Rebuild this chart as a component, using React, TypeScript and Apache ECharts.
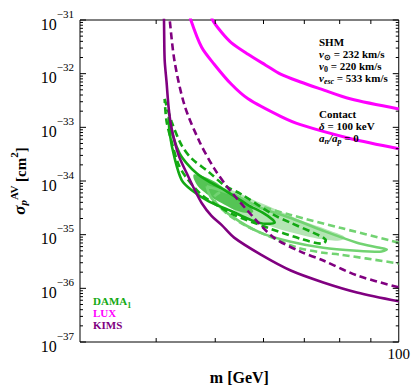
import React, { useEffect, useRef } from "react";
import * as echarts from "echarts";

const SERIF = "'Liberation Serif', 'Times New Roman', Times, serif";

// Axis ranges and ticks (sigma in cm^2)
const X_MIN = 30;
const X_MAX = 100;
const Y_MIN_EXP = -37;
const Y_MAX_EXP = -31;
const X_LABELED_TICKS = [100];
const X_MINOR_TICKS = [40, 50, 60, 70, 80, 90];
const Y_DECADE_EXPONENTS = [-37, -36, -35, -34, -33, -32, -31];
const Y_MINOR_MULTIPLIERS = [2, 3, 4, 5, 6, 7, 8, 9];

// LUX limits [m (GeV), sigma (cm^2)]
const luxUpper: [number, number][] = [
  [49.2, 1.4e-31], [49.5, 1e-31], [51.2, 5.9e-32], [53.1, 3.8e-32], [56.6, 2.3e-32],
  [60.5, 1.44e-32], [64.0, 9.8e-33], [69.0, 7.0e-33], [74.4, 5.2e-33], [83.2, 3.4e-33], [100, 2.2e-33],
];
const luxLower: [number, number][] = [
  [45.4, 1.4e-31], [45.6, 1e-31], [47.5, 3.1e-32], [49.8, 1.5e-32], [53.1, 6.4e-33],
  [56.6, 3.4e-33], [64.0, 1.6e-33], [69.0, 1.12e-33], [83.2, 6.2e-34], [100, 4.0e-34],
];

// KIMS limits
const kimsSolid: [number, number][] = [
  [41.1, 2e-31], [41.2, 1e-31], [41.3, 1.86e-32], [41.6, 7.0e-33], [41.95, 2.2e-33], [42.4, 9.5e-34],
  [43.55, 3.0e-34], [44.9, 1.39e-34], [46.1, 7.4e-35], [47.5, 3.9e-35], [49.3, 2.24e-35],
  [51.2, 1.52e-35], [53.7, 8.8e-36], [59.4, 4.25e-36], [66.5, 2.15e-36], [75.2, 1.29e-36],
  [85.4, 8.4e-37], [100, 5.75e-37],
];
const kimsDashed: [number, number][] = [
  [42.0, 1.5e-31], [42.1, 1e-31], [42.9, 1.64e-32], [44.55, 2.52e-33], [47.1, 5.44e-34],
  [49.8, 1.72e-34], [52.5, 7.4e-35], [57.9, 2.05e-35], [62.4, 8.8e-36], [69.0, 4.83e-36],
  [75.2, 3.3e-36], [85.4, 1.74e-36], [100, 1.04e-36],
];

// DAMA allowed regions
const damaDarkDashed: [number, number][] = [
  [41.3, 3.39e-33], [42.4, 1.27e-33], [44.05, 4.6e-34], [45.7, 2.64e-34], [48.7, 1.5e-34],
  [51.7, 8.4e-35], [55.1, 5.7e-35], [62.4, 2.33e-35], [66.5, 1.66e-35], [72.5, 1.08e-35],
  [75.2, 8.8e-36], [75.9, 7.7e-36], [75.0, 6.8e-36], [69.0, 8.4e-36], [61.0, 1.34e-35],
  [53.7, 2.33e-35], [51.2, 3.14e-35], [47.5, 5.5e-35], [44.9, 1.13e-34], [43.55, 2.0e-34],
  [42.4, 5.4e-34], [41.6, 1.3e-33], [41.3, 3.39e-33],
];
const damaDarkSolid: [number, number][] = [
  [41.95, 1.58e-33], [42.75, 6.2e-34], [43.7, 3.27e-34], [44.9, 2.13e-34], [46.6, 1.39e-34],
  [48.7, 9.9e-35], [52.1, 6.5e-35], [56.6, 3.57e-35], [59.9, 2.54e-35], [62.2, 1.88e-35],
  [62.6, 1.66e-35], [60.5, 1.59e-35], [57.2, 1.88e-35], [53.1, 2.76e-35], [48.7, 4.23e-35],
  [45.7, 6.8e-35], [44.05, 1.04e-34], [42.9, 2.64e-34], [42.1, 7.65e-34], [41.95, 1.58e-33],
];
const damaLightDashed: [number, number][] = [
  [100, 7.1e-36], [80.2, 1.34e-35], [66.5, 2.33e-35], [57.2, 3.9e-35],
  [51.7, 6.5e-35], [49.7, 4.8e-35], [52.1, 2.54e-35], [56.2, 1.46e-35], [61.0, 9.5e-36],
  [68.3, 5.7e-36], [75.2, 4.6e-36], [80.2, 4.25e-36], [100, 2.9e-36],
];
const damaLightSolid: [number, number][] = [
  [48.4, 8.0e-35], [53.7, 5.5e-35], [59.4, 3.14e-35], [66.5, 2.05e-35], [75.2, 1.18e-35],
  [85.4, 7.1e-36], [93.1, 5.7e-36], [95.6, 5.3e-36], [93.1, 4.8e-36], [85.4, 5.0e-36],
  [75.2, 5.7e-36], [66.5, 7.4e-36], [59.4, 1.08e-35], [53.1, 2.24e-35], [49.3, 4.8e-35], [48.4, 8.0e-35],
];
const damaDarkFill: [number, number][] = [
  [46.2, 1.34e-34], [49.3, 1.04e-34], [53.1, 5.95e-35], [56.2, 3.89e-35], [57.7, 2.65e-35],
  [55.1, 2.65e-35], [51.2, 3.89e-35], [47.5, 6.8e-35], [46.2, 1.04e-34],
];
const damaLightFill: [number, number][] = [
  [51.2, 7.4e-35], [59.4, 3.89e-35], [69.0, 1.88e-35], [77.2, 1.18e-35], [81.7, 8.8e-36],
  [78.7, 7.7e-36], [69.0, 9.96e-36], [59.4, 1.66e-35], [53.1, 3.14e-35],
];

const C_DAMA = "#13a913";
const C_DAMA_LIGHT = "#72d372";
const C_DAMA_FILL = "#55c455";
const C_DAMA_LIGHT_FILL = "#b4e5b4";
const C_LUX = "#ff00ff";
const C_KIMS = "#800080";

// The y axis works in units of 1e-37 cm^2 to keep the numbers well-conditioned.
const UNIT_EXP = Y_MIN_EXP;
const toAxis = (p: [number, number]): [number, number] => [p[0], p[1] * Math.pow(10, -UNIT_EXP)];
const decade = (e: number) => Math.pow(10, e - UNIT_EXP);

function lineSeries(data: [number, number][], color: string, dashed: boolean, width = 2.6) {
  return {
    type: "line",
    data: data.map(toAxis),
    showSymbol: false,
    symbol: "none",
    smooth: 0.3,
    clip: true,
    silent: true,
    lineStyle: { color, width, type: dashed ? [7, 4] : "solid", cap: "butt" },
  };
}

function fillSeries(points: [number, number][], color: string) {
  const pts = points.map(toAxis);
  return {
    type: "custom",
    coordinateSystem: "cartesian2d",
    silent: true,
    data: [pts[0]],
    renderItem: (_params: any, api: any) => ({
      type: "polygon",
      shape: { points: pts.map((p) => api.coord(p)), smooth: 0.4 },
      style: { fill: color },
    }),
  };
}

const tickSeries = {
  type: "custom",
  coordinateSystem: "cartesian2d",
  silent: true,
  z: 10,
  data: [[50, decade(-34)]],
  renderItem: (params: any, api: any) => {
    const cs = params.coordSys;
    const L = cs.x, R = cs.x + cs.width, T = cs.y, B = cs.y + cs.height;
    const ch: any[] = [];
    const seg = (x1: number, y1: number, x2: number, y2: number) => ({
      type: "line",
      shape: { x1, y1, x2, y2 },
      style: { stroke: "#000", lineWidth: 1 },
    });
    Y_DECADE_EXPONENTS.forEach((e) => {
      const y = api.coord([X_MIN, decade(e)])[1];
      ch.push(seg(L, y, L + 6, y), seg(R, y, R - 6, y));
      if (e < Y_MAX_EXP) {
        Y_MINOR_MULTIPLIERS.forEach((k) => {
          const yy = api.coord([X_MIN, k * decade(e)])[1];
          ch.push(seg(L, yy, L + 3, yy), seg(R, yy, R - 3, yy));
        });
      }
    });
    X_MINOR_TICKS.forEach((v) => {
      const x = api.coord([v, decade(Y_MIN_EXP)])[0];
      ch.push(seg(x, B, x, B - 4), seg(x, T, x, T + 4));
    });
    return { type: "group", children: ch };
  },
};

const annRich = {
  b: { fontFamily: SERIF, fontWeight: "bold", fontSize: 11, fill: "#000", color: "#000", lineHeight: 14, verticalAlign: "middle" },
  i: { fontFamily: SERIF, fontWeight: "bold", fontStyle: "italic", fontSize: 11, fill: "#000", color: "#000", lineHeight: 14, verticalAlign: "middle" },
  sub: { fontFamily: SERIF, fontWeight: "bold", fontStyle: "italic", fontSize: 8, fill: "#000", color: "#000", lineHeight: 8, verticalAlign: "bottom" },
  subn: { fontFamily: SERIF, fontWeight: "bold", fontSize: 8, fill: "#000", color: "#000", lineHeight: 8, verticalAlign: "bottom" },
};

const ANNOTATION_LINES = [
  "{b|SHM}",
  "{i|v}{subn|⊙}{b| = 232 km/s}",
  "{i|v}{subn|0}{b| = 220 km/s}",
  "{i|v}{sub|esc}{b| = 533 km/s}",
  "",
  "",
  "{b|Contact}",
  "{i|δ}{b| = 100 keV}",
  "{i|a}{sub|n}{i|/a}{sub|p}{b| = 0}",
];

const LEGEND_ITEMS = [
  { text: "{t|DAMA}{s|1}", color: C_DAMA },
  { text: "{t|LUX}", color: C_LUX },
  { text: "{t|KIMS}", color: C_KIMS },
];

export default function App() {
  const ref = useRef<HTMLDivElement>(null);
  useEffect(() => {
    document.body.style.margin = "0";
    if (!ref.current) return;
    const chart = echarts.init(ref.current, undefined, { renderer: "svg" });

    const graphic: any[] = [];
    ANNOTATION_LINES.forEach((t, i) => {
      if (!t) return;
      graphic.push({
        type: "text",
        x: 319,
        y: 42 + i * 12,
        silent: true,
        z: 20,
        style: { text: t, rich: annRich, textAlign: "left", verticalAlign: "middle", fill: "#000" },
      });
    });
    LEGEND_ITEMS.forEach((it, i) => {
      graphic.push({
        type: "text",
        x: 93,
        y: 301 + i * 12,
        silent: true,
        z: 20,
        style: {
          text: it.text,
          textAlign: "left",
          verticalAlign: "middle",
          fill: it.color,
          rich: {
            t: { fontFamily: SERIF, fontWeight: "bold", fontSize: 11, fill: it.color, color: it.color, lineHeight: 16, verticalAlign: "middle" },
            s: { fontFamily: SERIF, fontWeight: "bold", fontSize: 8, fill: it.color, color: it.color, lineHeight: 8, verticalAlign: "bottom" },
          },
        },
      });
    });

    const option: any = {
      animation: false,
      backgroundColor: "#fff",
      grid: {
        left: 76, right: 14, top: 20, bottom: 45,
        show: true, borderColor: "#000", borderWidth: 1, backgroundColor: "transparent",
      },
      xAxis: {
        type: "log",
        logBase: 10,
        min: X_MIN,
        max: X_MAX,
        axisLine: { show: false },
        axisTick: { show: false },
        minorTick: { show: false },
        splitLine: { show: false },
        axisLabel: {
          formatter: (v: number) => (X_LABELED_TICKS.some((t) => Math.abs(t - v) < 1e-6 * t) ? String(Math.round(v)) : ""),
          fontFamily: SERIF,
          fontSize: 15,
          color: "#000",
          margin: 4,
          hideOverlap: false,
        },
        name: "m [GeV]",
        nameLocation: "middle",
        nameGap: 27,
        nameTextStyle: { fontFamily: SERIF, fontWeight: "bold", fontSize: 16, color: "#000" },
      },
      yAxis: {
        type: "log",
        logBase: 10,
        min: decade(Y_MIN_EXP),
        max: decade(Y_MAX_EXP),
        axisLine: { show: false },
        axisTick: { show: false },
        minorTick: { show: false },
        splitLine: { show: false },
        axisLabel: {
          formatter: (v: number) => {
            const e = Math.round(Math.log10(v)) + UNIT_EXP;
            return `{b|10}{s|−${Math.abs(e)}}`;
          },
          margin: 6,
          rich: {
            b: { fontFamily: SERIF, fontSize: 16, color: "#000", lineHeight: 24, verticalAlign: "bottom" },
            s: { fontFamily: SERIF, fontSize: 11, color: "#000", lineHeight: 12, verticalAlign: "top" },
          },
        },
        name: "{s|σ}{sub|p}{sup|AV}{b| [cm}{sup|2}{b|]}",
        nameLocation: "middle",
        nameRotate: 90,
        nameGap: 52,
        nameTextStyle: {
          rich: {
            s: { fontFamily: SERIF, fontSize: 17, fontStyle: "italic", fontWeight: "bold", color: "#000", lineHeight: 20, verticalAlign: "bottom" },
            sub: { fontFamily: SERIF, fontSize: 11, fontStyle: "italic", fontWeight: "bold", color: "#000", lineHeight: 11, verticalAlign: "bottom" },
            sup: { fontFamily: SERIF, fontSize: 11, fontWeight: "bold", color: "#000", lineHeight: 11, verticalAlign: "top" },
            b: { fontFamily: SERIF, fontSize: 15, fontWeight: "bold", color: "#000", lineHeight: 20, verticalAlign: "bottom" },
          },
        },
      },
      series: [
        fillSeries(damaLightFill, C_DAMA_LIGHT_FILL),
        fillSeries(damaDarkFill, C_DAMA_FILL),
        lineSeries(damaLightDashed, C_DAMA_LIGHT, true),
        lineSeries(damaLightSolid, C_DAMA_LIGHT, false),
        lineSeries(damaDarkDashed, C_DAMA, true),
        lineSeries(damaDarkSolid, C_DAMA, false),
        lineSeries(kimsDashed, C_KIMS, true),
        lineSeries(kimsSolid, C_KIMS, false),
        lineSeries(luxLower, C_LUX, false, 3),
        lineSeries(luxUpper, C_LUX, false, 3),
        tickSeries,
      ],
      graphic,
    };
    chart.setOption(option);
    return () => chart.dispose();
  }, []);
  return <div ref={ref} style={{ width: 413, height: 390 }} />;
}
